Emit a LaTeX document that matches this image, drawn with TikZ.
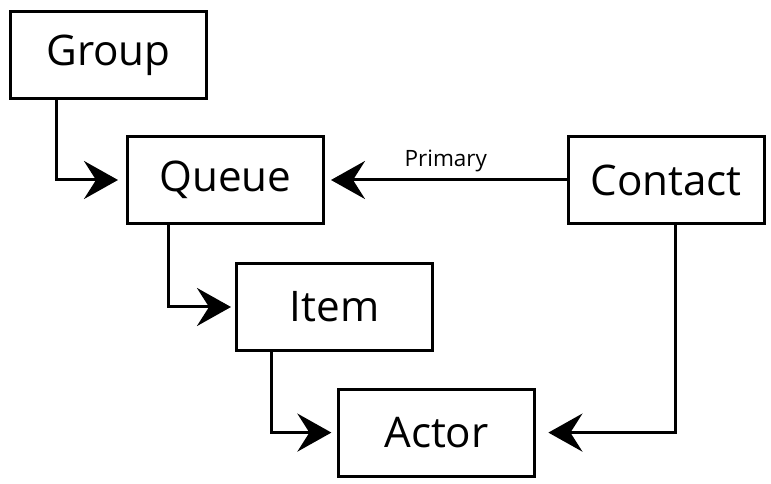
\documentclass[tikz,border=0pt]{standalone}
\usepackage{fontspec}
\setmainfont{Open Sans}
\usetikzlibrary{positioning,arrows.meta}
\tikzset{
  box/.style={draw,line width=0.75mm,minimum width=49mm,minimum height=21.75mm,
              inner sep=2pt,font=\fontsize{30}{35}\selectfont},
  ln/.style={-{Stealth[length=8.5mm,width=9.5mm,inset=3mm]},line width=0.75mm},
  lbl/.style={font=\fontsize{16}{19}\selectfont,inner sep=1.5pt},
}

\begin{document}
\begin{tikzpicture}
\useasboundingbox (-27.125mm,13.75mm) rectangle (165.625mm,-107.25mm);

% --- boxes, stepped down to the right
\node[box] (grp) at (0,0) {Group};
\node[box,below right=8.75mm and -20.5mm of grp] (que) {Queue};
\node[box,right=60.4mm of que] (con) {Contact};
\node[box,below right=9.25mm and -22.5mm of que] (itm) {Item};
\node[box,below right=8.9mm and -24.25mm of itm] (act) {Actor};

% --- connectors
\draw[ln,shorten >=2mm] ([xshift=12mm]grp.south west) |- (que.west);
\draw[ln,shorten >=1mm] ([xshift=10.5mm]que.south west) |- (itm.west);
\draw[ln,shorten >=1.4mm] ([xshift=9mm]itm.south west) |- (act.west);
\draw[ln,shorten >=1.5mm] (con.west) -- node[lbl,above=1.2mm]{Primary} (que.east);
\draw[ln,shorten >=3.1mm] ([xshift=2.45mm]con.south) |- (act.east);

\end{tikzpicture}
\end{document}
